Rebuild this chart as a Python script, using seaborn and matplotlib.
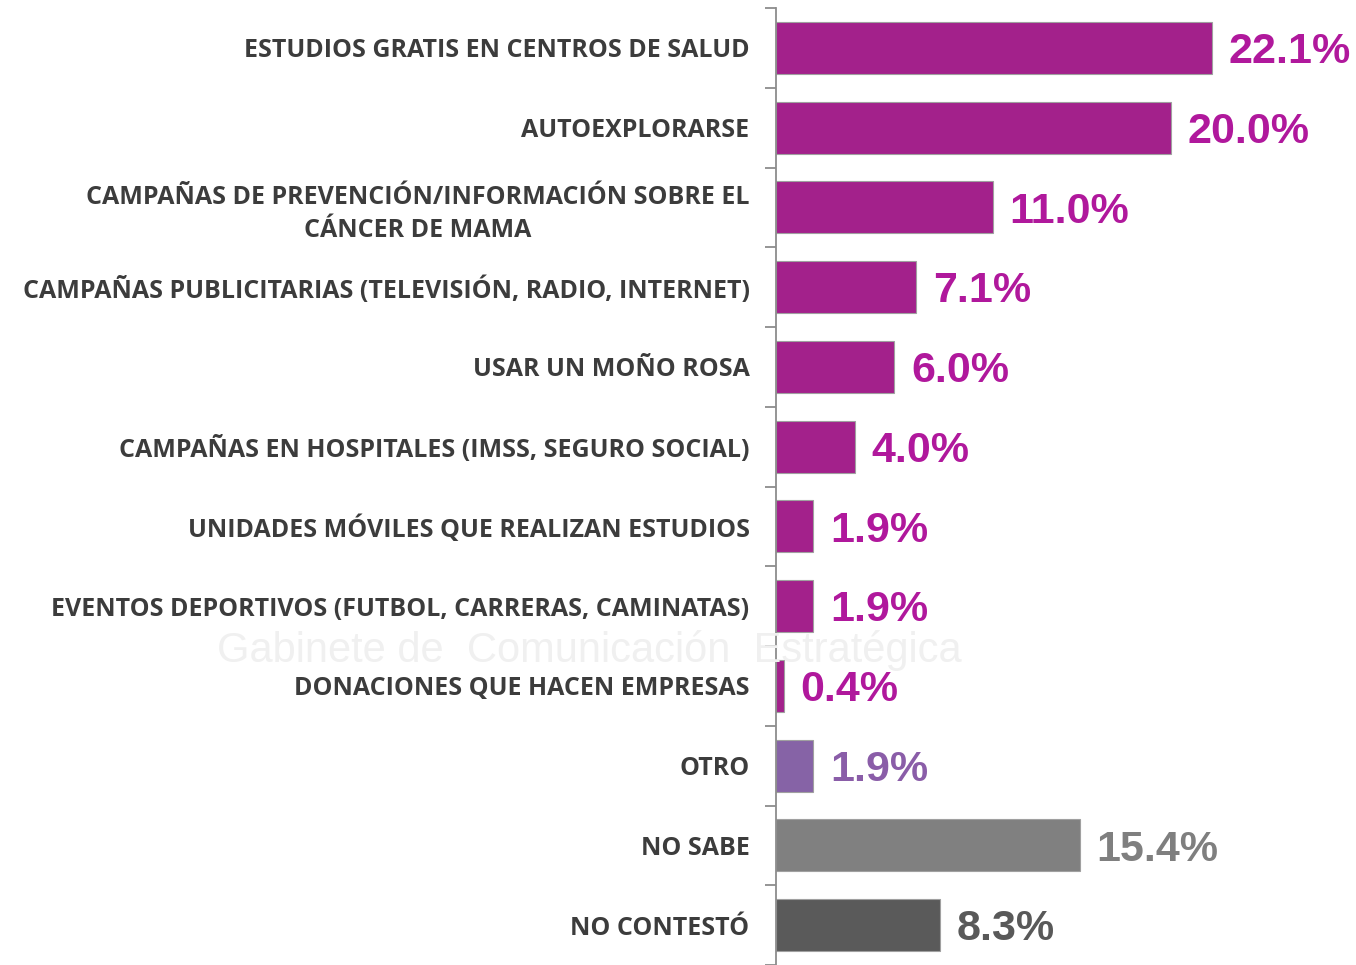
import numpy as np
import seaborn as sns
import matplotlib.pyplot as plt
import pandas as pd

categories = [
    'ESTUDIOS GRATIS EN CENTROS DE SALUD',
    'AUTOEXPLORARSE',
    'CAMPAÑAS DE PREVENCIÓN/INFORMACIÓN SOBRE EL\nCÁNCER DE MAMA',
    'CAMPAÑAS PUBLICITARIAS (TELEVISIÓN, RADIO, INTERNET)',
    'USAR UN MOÑO ROSA',
    'CAMPAÑAS EN HOSPITALES (IMSS, SEGURO SOCIAL)',
    'UNIDADES MÓVILES QUE REALIZAN ESTUDIOS',
    'EVENTOS DEPORTIVOS (FUTBOL, CARRERAS, CAMINATAS)',
    'DONACIONES QUE HACEN EMPRESAS',
    'OTRO',
    'NO SABE',
    'NO CONTESTÓ',
]
values = [22.1, 20.0, 11.0, 7.1, 6.0, 4.0, 1.9, 1.9, 0.4, 1.9, 15.4, 8.3]
bar_colors = ['#A3218B'] * 9 + ['#8663A6', '#808080', '#5A5A5A']
text_colors = ['#B0189C'] * 9 + ['#8A5DA8', '#7F7F7F', '#595959']

df = pd.DataFrame({'cat': categories, 'val': values})

sns.set_style('white')
plt.rcParams['font.family'] = ['Open Sans', 'DejaVu Sans']

fig = plt.figure(figsize=(13.56, 9.65), dpi=100)
ax = fig.add_axes([776 / 1356, 0.0, 1 - 776 / 1356, 1 - 8 / 965])

# faint watermark
fig.text(0.16, 0.326, 'Gabinete de  Comunicación  Estratégica', fontsize=30,
         color='#F0F0F0', ha='left', va='center', zorder=0,
         family=['Liberation Sans'])

sns.barplot(data=df, x='val', y='cat', hue='cat', palette=bar_colors,
            legend=False, width=0.65, ax=ax, saturation=1,
            edgecolor='#A0A0A0', linewidth=0.8)

for i, (v, c) in enumerate(zip(values, text_colors)):
    ax.annotate(f'{v:.1f}%', xy=(v, i), xytext=(12, -3), textcoords='offset points',
                ha='left', va='center', fontsize=31, fontweight='bold',
                color=c, family=['Liberation Sans'])

ax.set_xlim(0, (1356 - 776) / (436 / 22.1))
ax.set_ylim(len(categories) - 0.5, -0.5)
ax.set_xlabel('')
ax.set_ylabel('')
ax.set_xticks([])
ax.set_facecolor('none')

for s in ['top', 'right', 'bottom']:
    ax.spines[s].set_visible(False)
ax.spines['left'].set_color('#8C8C8C')
ax.spines['left'].set_linewidth(1.3)

ax.set_yticks(np.arange(len(categories)))
ax.set_yticks(list(np.arange(len(categories) + 1) - 0.5), minor=True)
ax.tick_params(axis='y', which='major', left=False, length=0, pad=19,
               labelsize=18, labelcolor='#3C3C3C')
ax.tick_params(axis='y', which='minor', left=True, length=8, width=1.3,
               color='#8C8C8C', direction='out')
for lab in ax.get_yticklabels():
    lab.set_fontweight('bold')
    lab.set_multialignment('center')
    lab.set_linespacing(1.4)

fig.savefig('out.png', dpi=100)
